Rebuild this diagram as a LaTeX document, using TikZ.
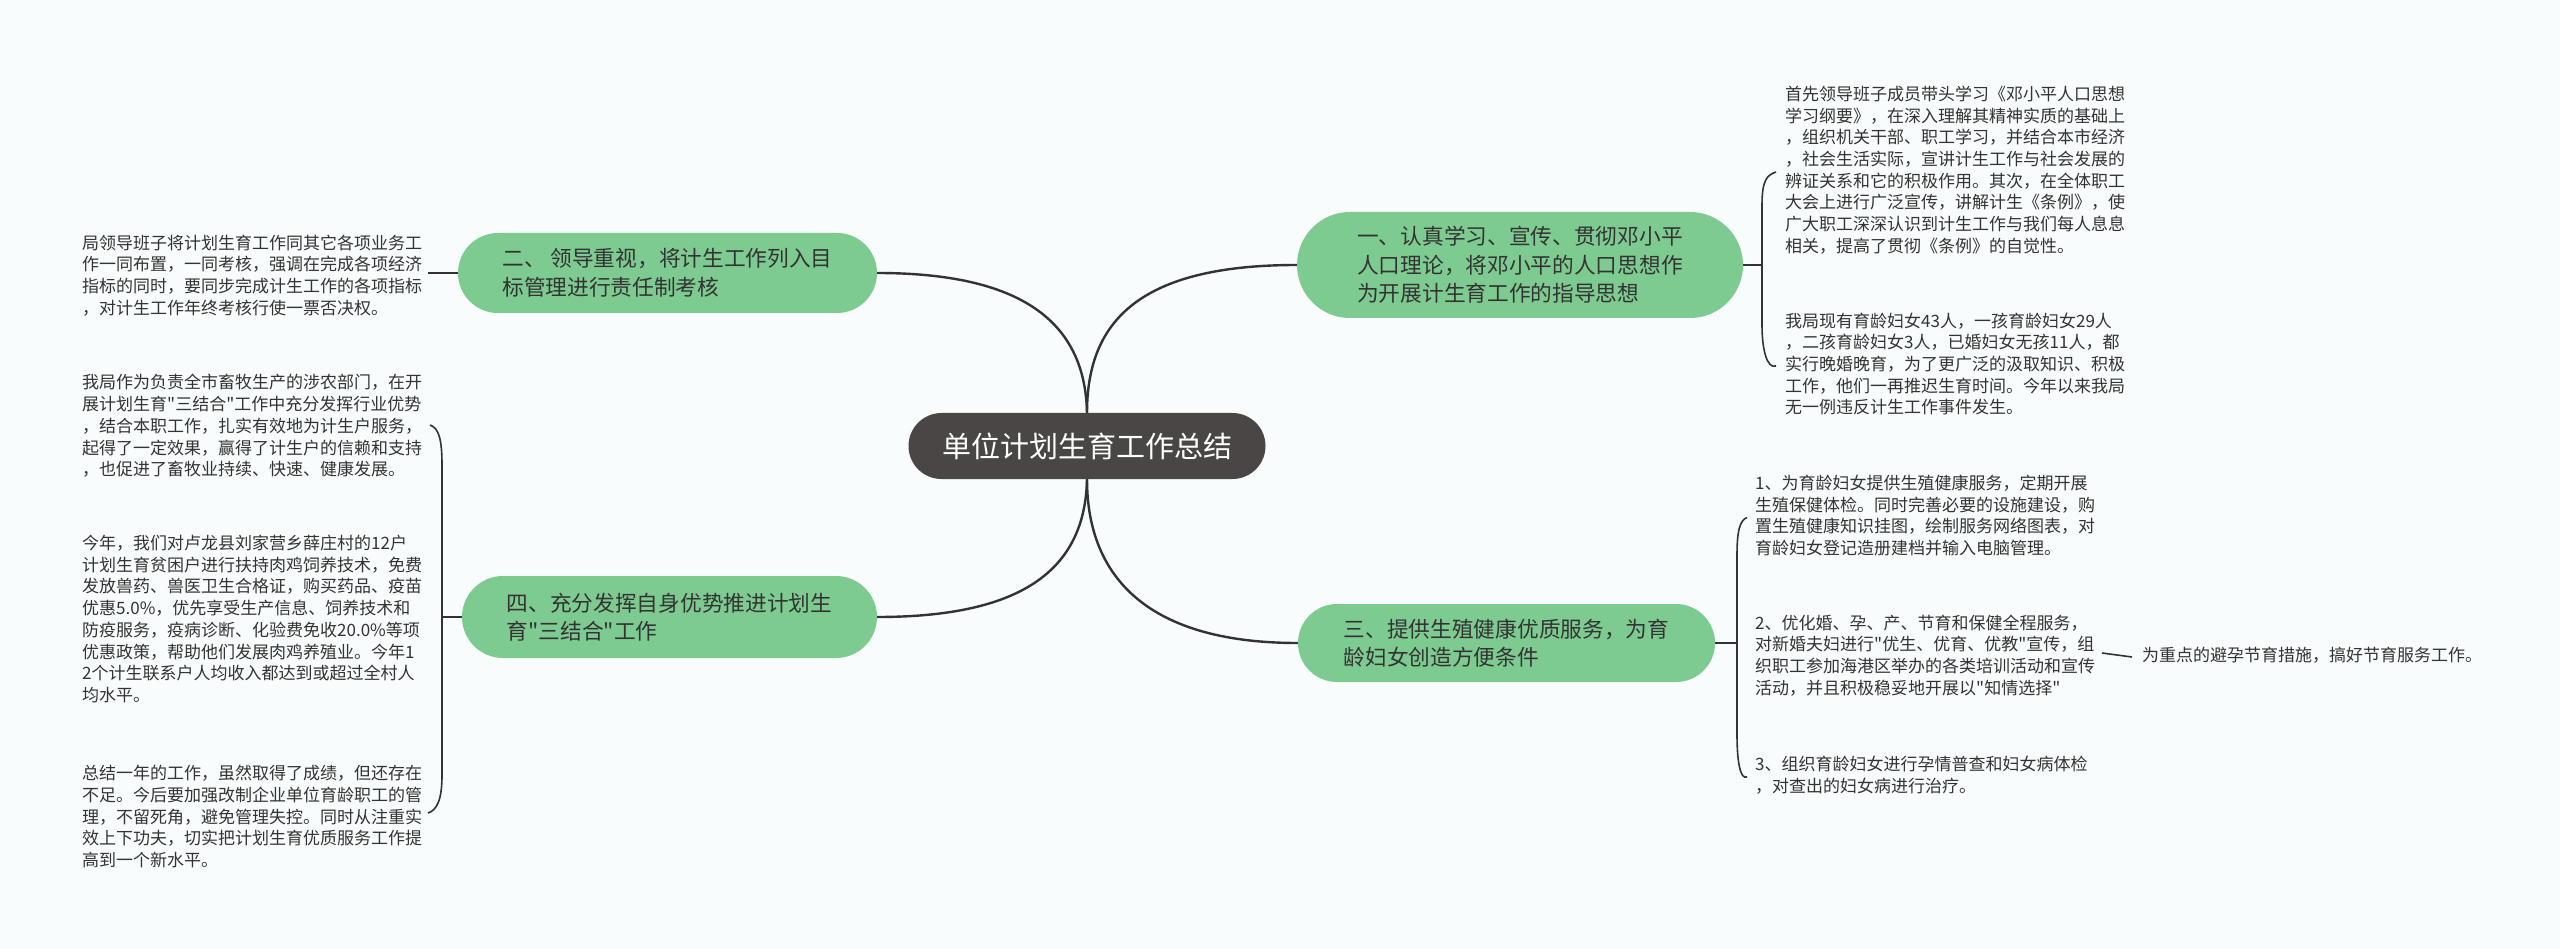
\documentclass[tikz,border=0pt]{standalone}
\usepackage{fontspec}
\setmainfont{Noto Sans CJK SC}[Ligatures=TeXOff]
\definecolor{bgc}{HTML}{F8FCFC}
\definecolor{grn}{HTML}{7ECB91}
\definecolor{ctr}{HTML}{4A4645}
\definecolor{ink}{HTML}{333333}
\definecolor{lnc}{HTML}{333333}
\pgfdeclarelayer{bg}
\pgfdeclarelayer{lines}
\pgfsetlayers{bg,lines,main}
\begin{document}
\begin{tikzpicture}[x=1pt,y=-1pt,
  leaf/.style={anchor=west,inner sep=0pt,align=left,text=ink,font=\fontsize{17}{21.7}\selectfont},
  branch/.style={fill=grn,inner sep=0pt,align=left,text=ink,font=\fontsize{21.7}{28.5}\selectfont},
  conn/.style={draw=lnc,line width=2.4pt},
  thin/.style={draw=lnc,line width=1.6pt}]
\useasboundingbox (0,0) rectangle (2560,949);
\begin{pgfonlayer}{bg}
\fill[bgc] (0,0) rectangle (2560,949);
\end{pgfonlayer}

% central topic
\node[fill=ctr,text=white,inner sep=0pt,minimum width=357,minimum height=66,rounded corners=33,
  font=\fontsize{29}{34}\selectfont] (c) at (1087,446) {单位计划生育工作总结};

% main branches
\node[branch,minimum width=446,minimum height=106,rounded corners=53] (b1) at (1520,265)
 {一、认真学习、宣传、贯彻邓小平\\人口理论，将邓小平的人口思想作\\为开展计生育工作的指导思想};
\node[branch,minimum width=419,minimum height=80,rounded corners=40] (b2) at (667.5,273)
 {二、 领导重视，将计生工作列入目\\标管理进行责任制考核};
\node[branch,minimum width=417,minimum height=78,rounded corners=39] (b3) at (1506.5,643)
 {三、提供生殖健康优质服务，为育\\龄妇女创造方便条件};
\node[branch,minimum width=415,minimum height=82,rounded corners=41] (b4) at (669.5,617)
 {四、充分发挥自身优势推进计划生\\育"三结合"工作};

% leaves
\node[leaf] (r1a) at (1785,170) {首先领导班子成员带头学习《邓小平人口思想\\学习纲要》，在深入理解其精神实质的基础上\\，组织机关干部、职工学习，并结合本市经济\\，社会生活实际，宣讲计生工作与社会发展的\\辨证关系和它的积极作用。其次，在全体职工\\大会上进行广泛宣传，讲解计生《条例》，使\\广大职工深深认识到计生工作与我们每人息息\\相关，提高了贯彻《条例》的自觉性。};
\node[leaf] (r1b) at (1785,364) {我局现有育龄妇女43人，一孩育龄妇女29人\\，二孩育龄妇女3人，已婚妇女无孩11人，都\\实行晚婚晚育，为了更广泛的汲取知识、积极\\工作，他们一再推迟生育时间。今年以来我局\\无一例违反计生工作事件发生。};
\node[leaf] (r3a) at (1755,515.5) {1、为育龄妇女提供生殖健康服务，定期开展\\生殖保健体检。同时完善必要的设施建设，购\\置生殖健康知识挂图，绘制服务网络图表，对\\育龄妇女登记造册建档并输入电脑管理。};
\node[leaf] (r3b) at (1755,655.5) {2、优化婚、孕、产、节育和保健全程服务，\\对新婚夫妇进行"优生、优育、优教"宣传，组\\织职工参加海港区举办的各类培训活动和宣传\\活动，并且积极稳妥地开展以"知情选择"};
\node[leaf] (r3c) at (1755,775) {3、组织育龄妇女进行孕情普查和妇女病体检\\，对查出的妇女病进行治疗。};
\node[leaf] (r3d) at (2142,655) {为重点的避孕节育措施，搞好节育服务工作。};

\node[leaf] (l2a) at (82,275.5) {局领导班子将计划生育工作同其它各项业务工\\作一同布置，一同考核，强调在完成各项经济\\指标的同时，要同步完成计生工作的各项指标\\，对计生工作年终考核行使一票否决权。};
\node[leaf] (l4a) at (82,426) {我局作为负责全市畜牧生产的涉农部门，在开\\展计划生育"三结合"工作中充分发挥行业优势\\，结合本职工作，扎实有效地为计生户服务，\\起得了一定效果，赢得了计生户的信赖和支持\\，也促进了畜牧业持续、快速、健康发展。};
\node[leaf] (l4b) at (82,619) {今年，我们对卢龙县刘家营乡薛庄村的12户\\计划生育贫困户进行扶持肉鸡饲养技术，免费\\发放兽药、兽医卫生合格证，购买药品、疫苗\\优惠5.0\%，优先享受生产信息、饲养技术和\\防疫服务，疫病诊断、化验费免收20.0\%等项\\优惠政策，帮助他们发展肉鸡养殖业。今年1\\2个计生联系户人均收入都达到或超过全村人\\均水平。};
\node[leaf] (l4c) at (82,816.5) {总结一年的工作，虽然取得了成绩，但还存在\\不足。今后要加强改制企业单位育龄职工的管\\理，不留死角，避免管理失控。同时从注重实\\效上下功夫，切实把计划生育优质服务工作提\\高到一个新水平。};

\begin{pgfonlayer}{lines}
% central curves
\draw[conn] (c.north) .. controls +(0,-92) and +(-157,0) .. (b1.west);
\draw[conn] (c.north) .. controls +(-2,-92) and +(143,0) .. (b2.east);
\draw[conn] (c.south) .. controls +(0,92) and +(-157,0) .. (b3.west);
\draw[conn] (c.south) .. controls +(-2,92) and +(143,0) .. (b4.east);
% branch 1 bracket
\coordinate (k1) at (1762,265);
\draw[thin] (b1.east) -- (k1);
\draw[thin] ([xshift=-9pt,yshift=-2pt]r1a.west) .. controls +(-9,3) and +(0,-25) .. (1762,205) -- (1762,325)
   .. controls +(0,25) and +(-9,3) .. ([xshift=-9pt,yshift=-2pt]r1b.west);
% branch 2
\draw[thin] (b2.west) -- ++(-30,0) coordinate (k2);
% branch 3 bracket
\coordinate (k3) at (1737,643);
\draw[thin] (b3.east) -- (k3);
\draw[thin] ([xshift=-8pt,yshift=-2pt]r3a.west) .. controls +(-7,3) and +(0,-25) .. (1737,555) -- (1737,735)
   .. controls +(0,25) and +(-7,3) .. ([xshift=-8pt,yshift=-2pt]r3c.west);
\coordinate (k5) at (2102,653);
\draw[thin] (k5) -- ([xshift=-10pt,yshift=-2pt]r3d.west);
% branch 4 bracket
\coordinate (k4) at (442,617);
\draw[thin] (b4.west) -- (k4);
\draw[thin] (430,425) .. controls +(9,3) and +(0,-25) .. (442,465) -- (442,775)
   .. controls +(0,25) and +(9,-3) .. (428,813);
\end{pgfonlayer}
\end{tikzpicture}
\end{document}
